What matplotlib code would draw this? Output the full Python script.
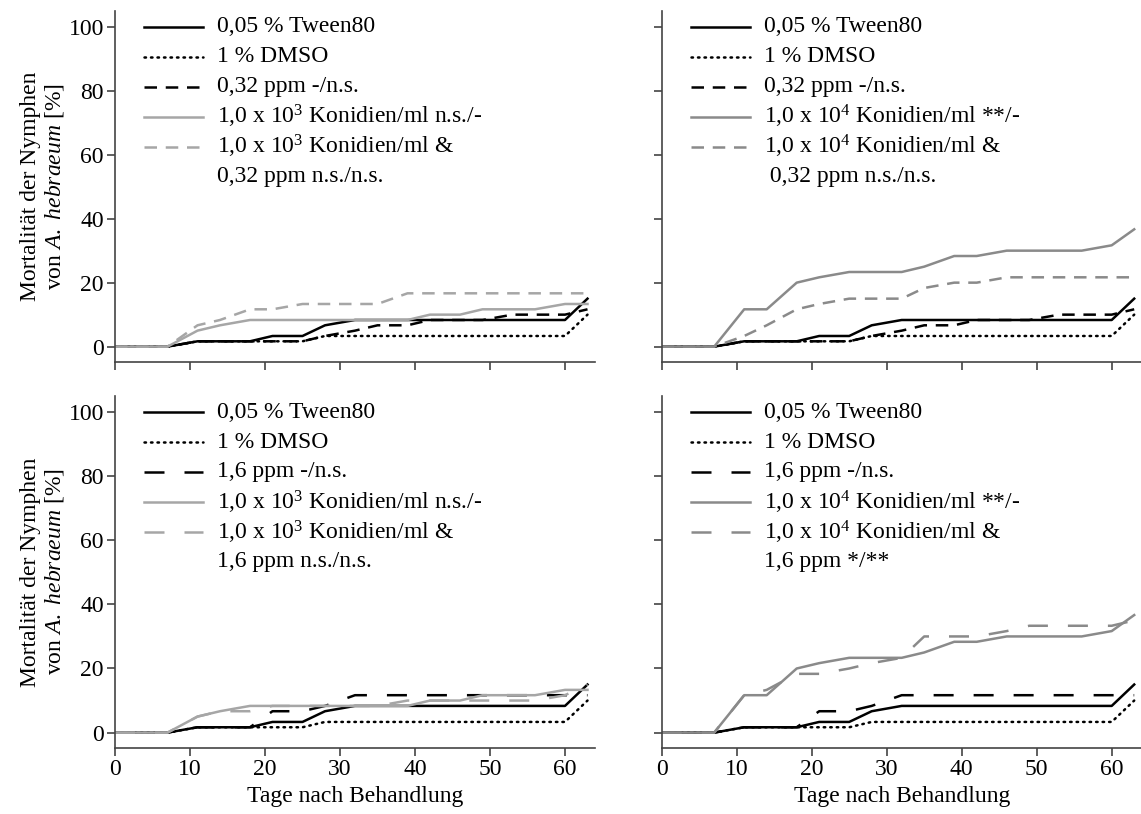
import matplotlib
matplotlib.use("Agg")
import matplotlib.pyplot as plt

plt.rcParams['font.family'] = ['Liberation Serif', 'DejaVu Serif']
plt.rcParams['mathtext.fontset'] = 'custom'
plt.rcParams['mathtext.rm'] = 'Liberation Serif'
plt.rcParams['mathtext.it'] = 'Liberation Serif:italic'

# ---------------- data ----------------
days = [0, 7, 11, 14, 18, 21, 25, 28, 32, 35, 39, 42, 46, 49, 53, 56, 60, 63]

tween80 = [0, 0, 1.67, 1.67, 1.67, 3.33, 3.33, 6.67, 8.33, 8.33, 8.33, 8.33, 8.33, 8.33, 8.33, 8.33, 8.33, 15]
dmso = [0, 0, 1.67, 1.67, 1.67, 1.67, 1.67, 3.33, 3.33, 3.33, 3.33, 3.33, 3.33, 3.33, 3.33, 3.33, 3.33, 10]
ppm032 = [0, 0, 1.67, 1.67, 1.67, 1.67, 1.67, 3.33, 5, 6.67, 6.67, 8.33, 8.33, 8.33, 10, 10, 10, 11.67]
ppm16 = [0, 0, 1.67, 1.67, 1.67, 6.67, 6.67, 8.33, 11.67, 11.67, 11.67, 11.67, 11.67, 11.67, 11.67, 11.67, 11.67, 11.67]
kon3 = [0, 0, 5, 6.67, 8.33, 8.33, 8.33, 8.33, 8.33, 8.33, 8.33, 10, 10, 11.67, 11.67, 11.67, 13.33, 13.33]
kon3_ppm032 = [0, 0, 6.67, 8.33, 11.67, 11.67, 13.33, 13.33, 13.33, 13.33, 16.67, 16.67, 16.67, 16.67, 16.67, 16.67, 16.67, 16.67]
kon3_ppm16 = [0, 0, 5, 6.67, 6.67, 8.33, 8.33, 8.33, 8.33, 8.33, 10, 10, 10, 10, 10, 10, 11.67, 15]
kon4 = [0, 0, 11.67, 11.67, 20, 21.67, 23.33, 23.33, 23.33, 25, 28.33, 28.33, 30, 30, 30, 30, 31.67, 36.67]
kon4_ppm032 = [0, 0, 3.33, 6.67, 11.67, 13.33, 15, 15, 15, 18.33, 20, 20, 21.67, 21.67, 21.67, 21.67, 21.67, 21.67]
kon4_ppm16 = [0, 0, 11.67, 13.33, 18.33, 18.33, 20, 21.67, 23.33, 30, 30, 30, 31.67, 33.33, 33.33, 33.33, 33.33, 35]

lbl_tween = '0,05 % Tween80'
lbl_dmso = '1 % DMSO'
panels = [
    dict(ppm=ppm032, ppm_lbl='0,32 ppm -/n.s.', kon=kon3, kon_lbl='1,0 x 10$^{3}$ Konidien/ml n.s./-',
         mix=kon3_ppm032, mix_lbl1='1,0 x 10$^{3}$ Konidien/ml &', mix_lbl2='0,32 ppm n.s./n.s.', gray='#a6a6a6', long=False),
    dict(ppm=ppm032, ppm_lbl='0,32 ppm -/n.s.', kon=kon4, kon_lbl='1,0 x 10$^{4}$ Konidien/ml **/-',
         mix=kon4_ppm032, mix_lbl1='1,0 x 10$^{4}$ Konidien/ml &', mix_lbl2=' 0,32 ppm n.s./n.s.', gray='#8a8a8a', long=False),
    dict(ppm=ppm16, ppm_lbl='1,6 ppm -/n.s.', kon=kon3, kon_lbl='1,0 x 10$^{3}$ Konidien/ml n.s./-',
         mix=kon3_ppm16, mix_lbl1='1,0 x 10$^{3}$ Konidien/ml &', mix_lbl2='1,6 ppm n.s./n.s.', gray='#a6a6a6', long=True),
    dict(ppm=ppm16, ppm_lbl='1,6 ppm -/n.s.', kon=kon4, kon_lbl='1,0 x 10$^{4}$ Konidien/ml **/-',
         mix=kon4_ppm16, mix_lbl1='1,0 x 10$^{4}$ Konidien/ml &', mix_lbl2='1,6 ppm */**', gray='#8a8a8a', long=True),
]

W, H = 1141, 814
fig = plt.figure(figsize=(W / 100, H / 100), dpi=100)

axes_px = [(115, 10.7, 595, 362), (661.7, 10.7, 1141.7, 362),
           (115, 396, 595, 748), (661.7, 396, 1141.7, 748)]

FS = 17
spine_col = '#444444'
lw = 1.8
short = (0, (5, 3.5))
longd = (0, (8, 8))
dots = (0, (0.6, 2.0))

for i, (p, (x0, y0, x1, y1)) in enumerate(zip(panels, axes_px)):
    aw, ah = x1 - x0, y1 - y0
    ax = fig.add_axes([x0 / W, 1 - y1 / H, aw / W, ah / H])
    ds = longd if p['long'] else short
    styles = [
        ('black', '-', tween80),
        ('black', dots, dmso),
        ('black', ds, p['ppm']),
        (p['gray'], '-', p['kon']),
        (p['gray'], ds, p['mix']),
    ]
    for col, ls, vals in styles:
        ax.plot(days, vals, color=col, lw=lw, ls=ls, dash_capstyle='round' if ls is dots else 'butt')

    ax.set_xlim(0, 64)
    ax.set_ylim(-4.8, 105)
    ax.set_yticks([0, 20, 40, 60, 80, 100])
    ax.set_xticks([0, 10, 20, 30, 40, 50, 60])
    for s in ['top', 'right']:
        ax.spines[s].set_visible(False)
    for s in ['left', 'bottom']:
        ax.spines[s].set_color(spine_col)
        ax.spines[s].set_linewidth(1.2)
    ax.tick_params(axis='both', colors=spine_col, labelcolor='black', labelsize=FS, length=6, width=1.2,
                   direction='out', pad=2)
    if i % 2 == 1:
        ax.tick_params(axis='y', labelleft=False)
    if i < 2:
        ax.tick_params(axis='x', labelbottom=False)
    else:
        ax.set_xlabel('Tage nach Behandlung', fontsize=FS, labelpad=4)
    if i % 2 == 0:
        ax.set_ylabel('Mortalität der Nymphen\nvon $\\it{A.\\ hebraeum}$ [%]', fontsize=FS, labelpad=2,
                      linespacing=1.1)

    # legend drawn manually (rows 30 px apart)
    labels = [lbl_tween, lbl_dmso, p['ppm_lbl'], p['kon_lbl'], p['mix_lbl1'], p['mix_lbl2']]
    hx0, hx1, tx = 29 / aw, 88 / aw, 102 / aw
    for k, lab in enumerate(labels):
        yy = 1 - (16 + 30 * k) / ah
        if k < 5:
            col, ls, _ = styles[k]
            ax.plot([hx0, hx1], [yy, yy], transform=ax.transAxes, color=col, lw=lw, ls=ls,
                    dash_capstyle='round' if ls is dots else 'butt', clip_on=False)
        ax.text(tx, yy, lab, transform=ax.transAxes, fontsize=FS, va='center', ha='left')

fig.savefig('out.png', dpi=100)
